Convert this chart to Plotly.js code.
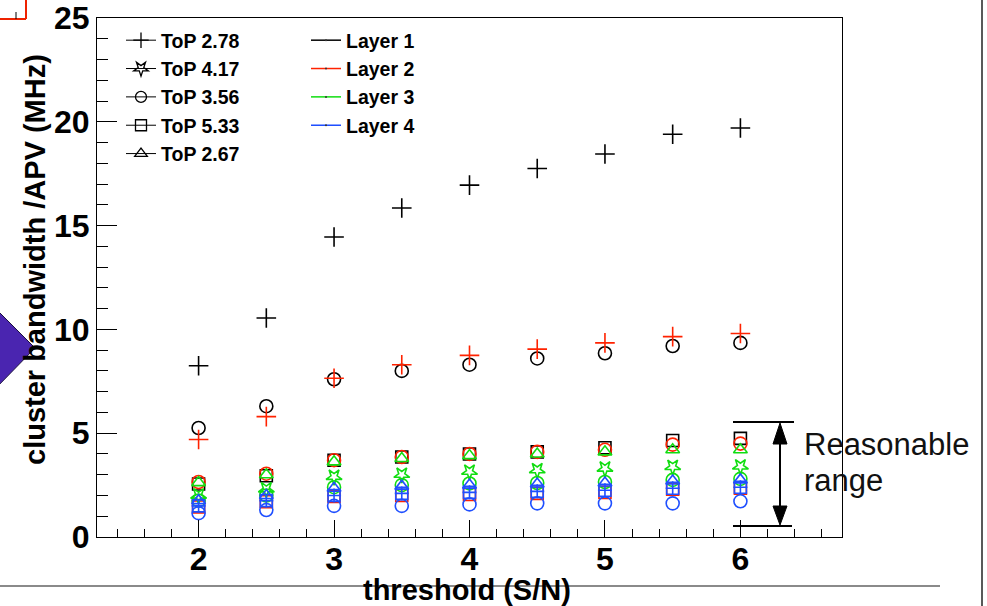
<!DOCTYPE html>
<html>
<head>
<meta charset="utf-8">
<script src="https://cdn.plot.ly/plotly-3.0.1.min.js"></script>
<style>
  html, body { margin: 0; padding: 0; background: #ffffff; }
  #chart { width: 987px; height: 606px; }
</style>
</head>
<body>
<div id="chart"></div>
<script>
// Thresholds (S/N) scanned
const thresholds = [2, 2.5, 3, 3.5, 4, 4.5, 5, 5.5, 6];

// Legend labels
const topLabels = ['ToP 2.78', 'ToP 4.17', 'ToP 3.56', 'ToP 5.33', 'ToP 2.67'];
const layerLabels = ['Layer 1', 'Layer 2', 'Layer 3', 'Layer 4'];

// Cluster bandwidth per APV (MHz), Layer 1
const top278L1 = [8.25, 10.55, 14.45, 15.85, 16.95, 17.75, 18.45, 19.4, 19.7];
const top356L1 = [5.25, 6.3, 7.6, 8.0, 8.3, 8.6, 8.85, 9.2, 9.35];
const top533L1 = [2.55, 2.95, 3.7, 3.85, 4.0, 4.1, 4.3, 4.65, 4.75];

// Layer 2
const top278L2 = [4.7, 5.8, 7.65, 8.3, 8.75, 9.05, 9.35, 9.65, 9.8];
const top356L2 = [2.65, 3.05, 3.7, 3.85, 4.0, 4.1, 4.2, 4.45, 4.5];
const top533L2 = [1.45, 1.7, 1.95, 2.0, 2.05, 2.1, 2.15, 2.3, 2.35];

// Layer 3
const top267L3 = [2.62, 3.0, 3.62, 3.78, 3.92, 4.0, 4.1, 4.2, 4.2];
const top417L3 = [2.0, 2.3, 2.9, 3.0, 3.15, 3.22, 3.3, 3.38, 3.4];
const top356L3 = [1.75, 2.0, 2.4, 2.5, 2.58, 2.6, 2.65, 2.75, 2.8];

// Layer 4
const top267L4 = [1.75, 2.0, 2.35, 2.45, 2.5, 2.55, 2.6, 2.7, 2.75];
const top533L4 = [1.5, 1.75, 2.0, 2.1, 2.15, 2.2, 2.25, 2.35, 2.4];
const top278L4 = [1.5, 1.75, 2.0, 2.1, 2.15, 2.2, 2.25, 2.35, 2.4];
const top356L4 = [1.15, 1.3, 1.5, 1.5, 1.57, 1.62, 1.62, 1.62, 1.72];

// Styling
const layerColors = ['#000000', '#ff2200', '#11dd11', '#1f4fff'];
const topSymbols = {
  'ToP 2.78': 'cross-thin-open',
  'ToP 4.17': 'star-open',
  'ToP 3.56': 'circle-open',
  'ToP 5.33': 'square-open',
  'ToP 2.67': 'triangle-up-open'
};
const topSizes = {
  'ToP 2.78': 14, 'ToP 4.17': 12, 'ToP 3.56': 13, 'ToP 5.33': 12, 'ToP 2.67': 12
};

// [values, ToP label, layer index]; drawn layer by layer
const series = [
  [top278L1, 'ToP 2.78', 0],
  [top356L1, 'ToP 3.56', 0],
  [top533L1, 'ToP 5.33', 0],
  [top278L2, 'ToP 2.78', 1],
  [top356L2, 'ToP 3.56', 1],
  [top533L2, 'ToP 5.33', 1],
  [top267L3, 'ToP 2.67', 2],
  [top417L3, 'ToP 4.17', 2],
  [top356L3, 'ToP 3.56', 2],
  [top267L4, 'ToP 2.67', 3],
  [top533L4, 'ToP 5.33', 3],
  [top278L4, 'ToP 2.78', 3],
  [top356L4, 'ToP 3.56', 3]
];

const traces = series.map(([vals, top, layer]) => ({
  type: 'scatter',
  mode: 'markers',
  x: thresholds,
  y: vals,
  showlegend: false,
  hoverinfo: 'x+y',
  marker: {
    symbol: topSymbols[top],
    size: top === 'ToP 2.78' && layer === 3 ? 10 : topSizes[top],
    angle: top === 'ToP 4.17' ? 180 : 0,
    color: layerColors[layer],
    line: { width: 1.6, color: layerColors[layer] }
  }
}));

// Legend column 1: marker style per ToP
topLabels.forEach(lbl => {
  traces.push({
    type: 'scatter', mode: 'lines+markers',
    x: [null], y: [null], name: lbl, legend: 'legend',
    line: { color: '#000000', width: 1 },
    marker: {
      symbol: topSymbols[lbl], size: 11,
      angle: lbl === 'ToP 4.17' ? 180 : 0,
      color: '#000000', line: { width: 1.3, color: '#000000' }
    }
  });
});

// Legend column 2: colour per layer
layerLabels.forEach((lbl, i) => {
  traces.push({
    type: 'scatter', mode: 'lines+markers',
    x: [null], y: [null], name: lbl, legend: 'legend2',
    line: { color: layerColors[i], width: 1.5 },
    marker: { symbol: 'circle', size: 2, color: '#333333' }
  });
});

// Pixel-to-paper helpers for the slide decorations
const L = 97, R = 145, T = 18, B = 69, W = 987, H = 606;
const pw = W - L - R, ph = H - T - B;
const px = v => (v - L) / pw;
const py = v => (H - B - v) / ph;

const legendFont = { family: 'Liberation Sans, Arial, sans-serif', size: 19.5, color: '#000000', weight: 'bold' };
const tickFont = { family: 'Liberation Sans, Arial, sans-serif', size: 32, color: '#000000', weight: 'bold' };
const titleFont = { family: 'Liberation Sans, Arial, sans-serif', size: 29, color: '#000000', weight: 'bold' };

const pathTri = pts => 'M' + pts.map(p => px(p[0]) + ',' + py(p[1])).join(' L') + ' Z';

const shapes = [
  // red corner mark at top-left
  { type: 'line', xref: 'paper', yref: 'paper', x0: px(0), x1: px(26), y0: py(19), y1: py(19), line: { color: '#ee2200', width: 2 } },
  { type: 'line', xref: 'paper', yref: 'paper', x0: px(26), x1: px(26), y0: py(0), y1: py(19), line: { color: '#ee2200', width: 2 } },
  { type: 'line', xref: 'paper', yref: 'paper', x0: px(16), x1: px(16), y0: py(12), y1: py(19), line: { color: '#000000', width: 1 } },
  // purple pointer
  { type: 'path', xref: 'paper', yref: 'paper', path: pathTri([[-6, 307], [35, 348], [-6, 390]]),
    fillcolor: '#4a25b0', line: { color: '#1a1040', width: 1 } },
  // grey rule under the chart
  { type: 'line', xref: 'paper', yref: 'paper', x0: px(0), x1: px(940), y0: py(586), y1: py(586), line: { color: '#8a8a8a', width: 2 } },
  // right border of the slide panel
  { type: 'line', xref: 'paper', yref: 'paper', x0: px(982), x1: px(982), y0: py(0), y1: py(606), line: { color: '#222222', width: 1.5 } },
  // reasonable range marker
  { type: 'line', xref: 'paper', yref: 'paper', x0: px(733), x1: px(794), y0: py(422), y1: py(422), line: { color: '#000000', width: 2 } },
  { type: 'line', xref: 'paper', yref: 'paper', x0: px(733), x1: px(792), y0: py(526), y1: py(526), line: { color: '#000000', width: 2 } },
  { type: 'line', xref: 'paper', yref: 'paper', x0: px(780), x1: px(780), y0: py(440), y1: py(510), line: { color: '#000000', width: 2 } },
  { type: 'path', xref: 'paper', yref: 'paper', path: pathTri([[780, 423], [773, 444], [787, 444]]), fillcolor: '#000000', line: { color: '#000000', width: 1 } },
  { type: 'path', xref: 'paper', yref: 'paper', path: pathTri([[780, 525], [773, 506], [787, 506]]), fillcolor: '#000000', line: { color: '#000000', width: 1 } }
];

const annotations = [
  { xref: 'paper', yref: 'paper', x: 0.497, y: py(590), text: 'threshold (S/N)', showarrow: false,
    xanchor: 'center', yanchor: 'middle', font: titleFont },
  { xref: 'paper', yref: 'paper', x: px(35), y: py(260), text: 'cluster bandwidth /APV (MHz)', showarrow: false,
    textangle: -90, xanchor: 'center', yanchor: 'middle', font: titleFont },
  { xref: 'paper', yref: 'paper', x: px(802), y: py(444), text: 'Reasonable', showarrow: false,
    xanchor: 'left', yanchor: 'middle', font: { family: 'Liberation Sans, Arial, sans-serif', size: 31, color: '#111111' } },
  { xref: 'paper', yref: 'paper', x: px(802), y: py(480), text: 'range', showarrow: false,
    xanchor: 'left', yanchor: 'middle', font: { family: 'Liberation Sans, Arial, sans-serif', size: 31, color: '#111111' } }
];

const layout = {
  width: W, height: H,
  margin: { l: L, r: R, t: T, b: B, pad: 0 },
  paper_bgcolor: '#ffffff', plot_bgcolor: '#ffffff',
  showlegend: true,
  legend: {
    x: px(121), y: py(21), xanchor: 'left', yanchor: 'top',
    bgcolor: 'rgba(0,0,0,0)', borderwidth: 0, font: legendFont, tracegroupgap: 0
  },
  legend2: {
    x: px(306), y: py(21), xanchor: 'left', yanchor: 'top',
    bgcolor: 'rgba(0,0,0,0)', borderwidth: 0, font: legendFont, tracegroupgap: 0
  },
  xaxis: {
    range: [1.25, 6.75], tickmode: 'linear', tick0: 2, dtick: 1,
    ticks: 'inside', ticklen: 17, tickwidth: 1, tickcolor: '#000000',
    minor: { dtick: 0.2, tick0: 2, ticks: 'inside', ticklen: 8, tickwidth: 1, tickcolor: '#000000', showgrid: false },
    showline: true, linecolor: '#000000', linewidth: 1, mirror: true,
    showgrid: false, zeroline: false, tickfont: tickFont, ticklabelstandoff: -6
  },
  yaxis: {
    range: [0, 25], tickmode: 'linear', tick0: 0, dtick: 5,
    ticks: 'inside', ticklen: 20, tickwidth: 1, tickcolor: '#000000',
    minor: { dtick: 1, ticks: 'inside', ticklen: 11, tickwidth: 1, tickcolor: '#000000', showgrid: false },
    showline: true, linecolor: '#000000', linewidth: 1, mirror: true,
    showgrid: false, zeroline: false, tickfont: tickFont
  },
  shapes: shapes,
  annotations: annotations
};

Plotly.newPlot('chart', traces, layout, { displayModeBar: false, staticPlot: true });
</script>
</body>
</html>
